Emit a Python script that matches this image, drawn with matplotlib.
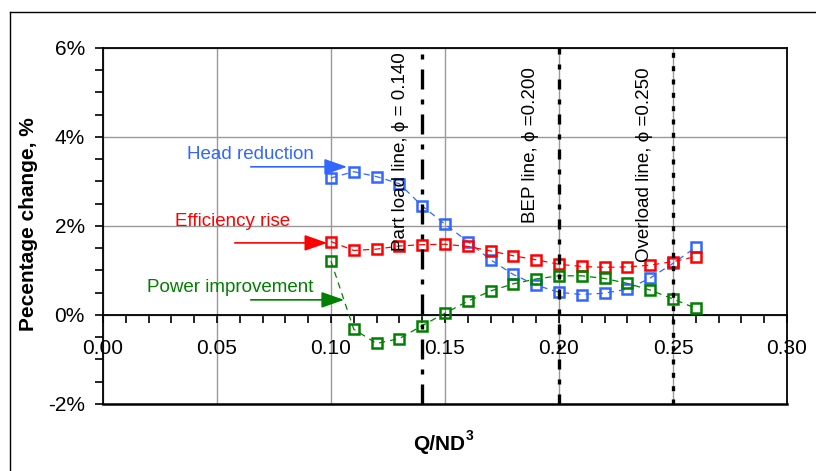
import matplotlib
matplotlib.use("Agg")
import matplotlib.pyplot as plt
from matplotlib.ticker import MultipleLocator, FuncFormatter
from matplotlib.lines import Line2D
from matplotlib.patches import FancyArrowPatch

plt.rcParams['font.family'] = ['Liberation Sans', 'DejaVu Sans']
plt.rcParams['axes.unicode_minus'] = False

# flow coefficient Q/ND^3
phi = [0.10, 0.11, 0.12, 0.13, 0.14, 0.15, 0.16, 0.17, 0.18,
       0.19, 0.20, 0.21, 0.22, 0.23, 0.24, 0.25, 0.26]

# percentage changes
head_reduction = [3.08, 3.22, 3.11, 2.95, 2.45, 2.04, 1.65, 1.24, 0.91,
                  0.67, 0.51, 0.46, 0.49, 0.58, 0.83, 1.16, 1.52]
efficiency_rise = [1.65, 1.45, 1.48, 1.55, 1.58, 1.59, 1.54, 1.44, 1.33,
                   1.24, 1.14, 1.09, 1.07, 1.08, 1.12, 1.20, 1.31]
power_improvement = [1.21, -0.32, -0.64, -0.53, -0.24, 0.04, 0.31, 0.54, 0.70,
                     0.81, 0.88, 0.88, 0.82, 0.71, 0.56, 0.36, 0.15]

# operating lines
op_phi = [0.140, 0.200, 0.250]
op_labels = ['Part load line, \u03d5 = 0.140', 'BEP line, \u03d5 =0.200', 'Overload line, \u03d5 =0.250']

BLUE = '#3366FF'
RED = '#FF0000'
GREEN = '#008000'

fig = plt.figure(figsize=(8.16, 4.71), dpi=100)
ax = fig.add_axes([0.1262, 0.1423, 0.8382, 0.7558])

ax.set_xlim(0, 0.30)
ax.set_ylim(-2, 6)
ax.xaxis.set_major_locator(MultipleLocator(0.05))
ax.xaxis.set_minor_locator(MultipleLocator(0.01))
ax.yaxis.set_major_locator(MultipleLocator(2))
ax.yaxis.set_minor_locator(MultipleLocator(0.5))
ax.xaxis.set_major_formatter(FuncFormatter(lambda v, p: f'{v:.2f}'))
ax.yaxis.set_major_formatter(FuncFormatter(lambda v, p: f'{v:.0f}%'))
ax.grid(True, which='major', color='#999999', lw=1.0, zorder=0)
ax.set_axisbelow(True)

# x axis crosses at zero
ax.spines['bottom'].set_position(('data', 0))
for s in ax.spines.values():
    s.set_linewidth(1.3)
ax.axhline(-2, color='black', lw=1.8, clip_on=False, zorder=5)
ax.tick_params(axis='x', which='both', direction='out', length=6, width=1.2,
               labelsize=15, pad=11)
ax.tick_params(axis='y', which='both', direction='out', length=6, width=1.2,
               labelsize=15, pad=7)

style = dict(ls=(0, (5, 4)), lw=0.9, marker='s', markersize=6.5,
             markerfacecolor='none', markeredgewidth=1.8, zorder=3)
ax.plot(phi, head_reduction, color=BLUE, **style)
ax.plot(phi, efficiency_rise, color=RED, **style)
ax.plot(phi, power_improvement, color=GREEN, **style)

dash_styles = [(0, (6, 3, 1.5, 3)), (0, (3, 3, 1.5, 3)), (0, (1.5, 2.5))]
for x, ds in zip(op_phi, dash_styles):
    ax.axvline(x, color='black', lw=2.4, ls=ds, zorder=4)

text_x = [0.1305, 0.1877, 0.2377]
text_top = [5.9, 5.57, 5.57]
for x, y, t in zip(text_x, text_top, op_labels):
    ax.text(x, y, t, rotation=90, ha='center', va='top', fontsize=13.5, zorder=6)

# series annotations with arrows
notes = [('Head reduction', BLUE, (0.0645, 3.6), (0.0636, 3.33), (0.1083, 3.33)),
         ('Efficiency rise', RED, (0.057, 2.09), (0.0566, 1.62), (0.0996, 1.62)),
         ('Power improvement', GREEN, (0.0559, 0.61), (0.0636, 0.34), (0.107, 0.34))]
for t, c, tp, a0, a1 in notes:
    ax.text(tp[0], tp[1], t, color=c, fontsize=13.5, ha='center', va='center', zorder=6)
    ax.add_patch(FancyArrowPatch(a0, a1, arrowstyle='-|>,head_length=1.0,head_width=0.35',
                                 mutation_scale=14, color=c, lw=1.2, zorder=6))

fig.text(28 / 816, 1 - 224 / 471, 'Pecentage change, %', rotation=90, ha='center',
         va='center', fontsize=15, fontweight='bold')
fig.text(465 / 816, 1 - 444 / 471, 'Q/ND', ha='right', va='center',
         fontsize=15, fontweight='bold')
fig.text(466 / 816, 1 - 436 / 471, '3', ha='left', va='center',
         fontsize=10, fontweight='bold')

# chart area border
x0 = 10 / 816
y0 = 1 - 12 / 471
fig.add_artist(Line2D([x0, x0], [0, y0], color='black', lw=1.0, transform=fig.transFigure))
fig.add_artist(Line2D([x0, 1], [y0, y0], color='black', lw=1.0, transform=fig.transFigure))

fig.savefig('out.png', dpi=100)
